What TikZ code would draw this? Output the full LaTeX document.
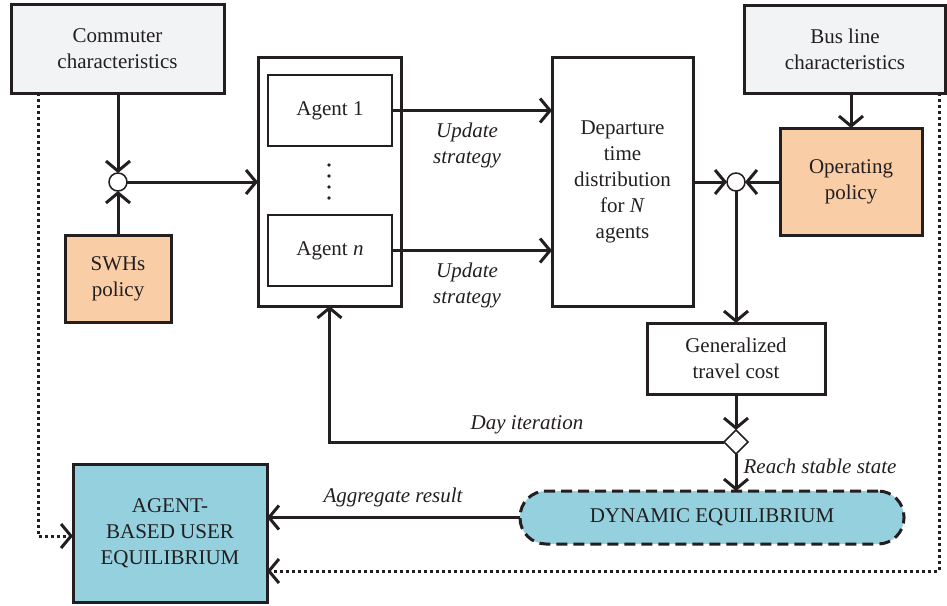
\documentclass[tikz,border=0pt]{standalone}
\usepackage{fontspec}
\setmainfont{Liberation Serif}
\usetikzlibrary{arrows.meta,shapes.geometric}
\definecolor{ink}{HTML}{231F20}
\definecolor{greyfill}{HTML}{F2F3F5}
\definecolor{peach}{HTML}{F9CDA5}
\definecolor{skyfill}{HTML}{94D0DE}
\tikzset{
  box/.style={draw=ink, line width=3pt, inner sep=2pt, outer sep=0pt, align=center,
    text=ink, font=\fontsize{21}{26}\selectfont},
  innerbox/.style={box, line width=1.6pt},
  flow/.style={draw=ink, line width=3pt, -{Straight Barb[length=10pt,width=24pt]}},
  dotflow/.style={flow, dash pattern=on 2.6pt off 3.4pt},
  junction/.style={circle, draw=ink, fill=white, line width=1.5pt, minimum size=18pt,
    inner sep=0pt, outer sep=0pt},
  gate/.style={diamond, draw=ink, fill=white, line width=1.5pt, minimum size=24pt,
    inner sep=0pt, outer sep=0pt},
  lab/.style={text=ink, align=center, inner sep=0pt, font=\fontsize{21}{26}\selectfont\itshape},
}
\begin{document}
\begin{tikzpicture}[x=1pt,y=-1pt]
\useasboundingbox (0,0) rectangle (947,605);

% input characteristics and policies
\node[box, fill=greyfill, minimum width=213pt, minimum height=89pt] (comm) at (117.5,48.5) {Commuter\\characteristics};
\node[box, fill=greyfill, minimum width=201pt, minimum height=88pt] (bus) at (845,49) {Bus line\\characteristics};
\node[box, fill=peach, minimum width=106pt, minimum height=87pt] (swh) at (118,278.5) {SWHs\\policy};
\node[box, fill=peach, minimum width=142pt, minimum height=107pt] (oper) at (851,181.5) {Operating\\policy};

% agent population
\node[box, minimum width=143pt, minimum height=249pt] (ag) at (329.5,181.5) {};
\node[innerbox, minimum width=124pt, minimum height=71pt] (ag1) at (330,110.5) {Agent 1};
\node[innerbox, minimum width=124pt, minimum height=71pt] (agn) at (330,250.5) {Agent \textit{n}};
\foreach \yy in {165,176,187,198} \fill[ink] (329,\yy) circle (1.8pt);

% central blocks
\node[box, minimum width=141pt, minimum height=249pt] (dep) at (622.5,181.5) {Departure\\time\\distribution\\for \textit{N}\\agents};
\node[box, minimum width=178pt, minimum height=71pt] (gen) at (736,358.5) {Generalized\\travel cost};
\node[box, fill=skyfill, dash pattern=on 11pt off 6pt, rounded corners=26pt, minimum width=384pt, minimum height=53pt] (de) at (712,517.5) {DYNAMIC EQUILIBRIUM};
\node[box, fill=skyfill, minimum width=194pt, minimum height=138pt] (abue) at (170,533) {AGENT-\\BASED USER\\EQUILIBRIUM};

% junctions
\node[junction] (j1) at (118,182) {};
\node[junction] (j2) at (736,182) {};
\node[gate] (gt) at (736,442) {};

% connectors
\draw[flow] (comm.south -| j1) -- (j1.north);
\draw[flow] (swh.north) -- (j1.south);
\draw[flow] (j1.east) -- (j1 -| ag.west);
\draw[flow] (ag1.east) -- (ag1.east -| dep.west);
\draw[flow] (agn.east) -- (agn.east -| dep.west);
\draw[flow] (j2 -| dep.east) -- (j2.west);
\draw[flow] (j2 -| oper.west) -- (j2.east);
\draw[flow] (bus.south -| oper.north) -- (oper.north);
\draw[flow] (j2.south) -- (j2 |- gen.north);
\draw[flow] (gen.south) -- (gt.north);
\draw[flow] (gt.west) -| (ag.south);
\draw[flow] (gt.south) -- (gt |- de.north);
\draw[flow] (de.west) -- (de.west -| abue.east);

% dotted feeds into the equilibrium block
\coordinate (dl) at (38,536);
\coordinate (dr) at (939,571);
\draw[dotflow] (comm.south -| dl) -- (dl) -- (dl -| abue.west);
\draw[dotflow] (bus.south -| dr) -- (dr) -- (dr -| abue.east);

% connector labels
\node[lab] (up1) at (467,145.5) {Update\\strategy};
\node[lab] (up2) at (467,285.5) {Update\\strategy};
\node[lab] (dayit) at (527,425) {Day iteration};
\node[lab] (reach) at (820,466) {Reach stable state};
\node[lab] (aggr) at (393,497) {Aggregate result};
\end{tikzpicture}
\end{document}
